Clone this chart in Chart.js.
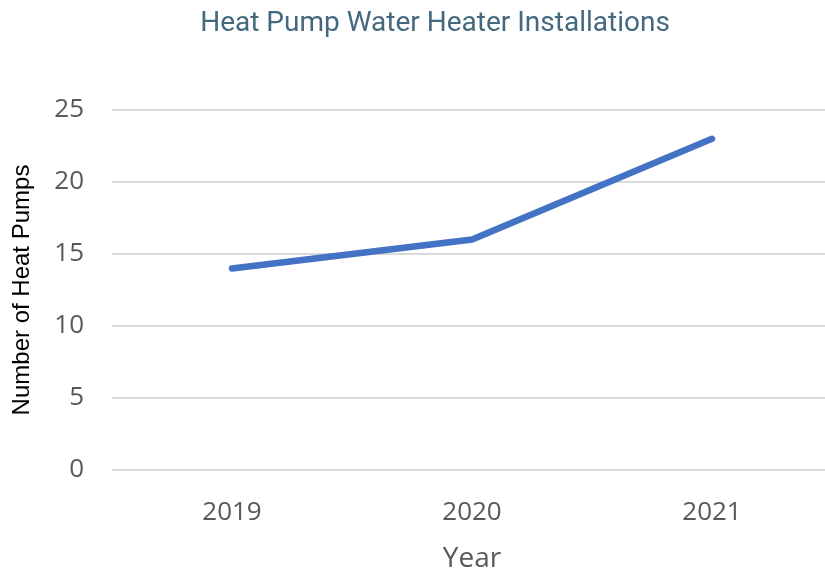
<!DOCTYPE html>
<html>
<head>
<meta charset="utf-8">
<script src="https://cdn.jsdelivr.net/npm/chart.js@4/dist/chart.umd.min.js"></script>
<style>
  html, body { margin: 0; padding: 0; background: #ffffff; overflow: hidden; }
  #wrap { position: relative; width: 870px; height: 571px; }
</style>
</head>
<body>
<div id="wrap"><canvas id="chart" width="870" height="571"></canvas></div>
<script>
// Installations per year
const years = ['2019', '2020', '2021'];
const installations = [14, 16, 23];
const yTicks = [0, 5, 10, 15, 20, 25];
const chartTitle = 'Heat Pump Water Heater Installations';

const tickFont = { family: "'Open Sans', 'Noto Sans', sans-serif", size: 26 };

// Title centred across the whole canvas
const canvasTitle = {
  id: 'canvasTitle',
  afterDraw(chart) {
    const ctx = chart.ctx;
    ctx.save();
    ctx.font = "28px Roboto, sans-serif";
    ctx.fillStyle = '#44697f';
    ctx.textAlign = 'center';
    ctx.textBaseline = 'middle';
    ctx.fillText(chartTitle, chart.width / 2, 24);
    ctx.restore();
  }
};

new Chart(document.getElementById('chart'), {
  type: 'line',
  data: {
    labels: years,
    datasets: [{
      label: 'Heat Pumps',
      data: installations,
      borderColor: '#4472c4',
      borderWidth: 6.5,
      pointRadius: 0,
      tension: 0,
      fill: false,
      borderCapStyle: 'round'
    }]
  },
  plugins: [canvasTitle],
  options: {
    responsive: false,
    animation: false,
    layout: { padding: { left: 0, right: 38, top: 110, bottom: 0 } },
    plugins: {
      legend: { display: false },
      tooltip: { enabled: false },
      title: { display: false }
    },
    scales: {
      x: {
        type: 'category',
        offset: true,
        grid: { display: false, drawTicks: false },
        border: { display: false },
        ticks: { color: '#595959', font: tickFont, padding: 27 },
        title: {
          display: true,
          text: 'Year',
          color: '#595959',
          font: { family: "'Open Sans', sans-serif", size: 28 },
          padding: { top: 0, bottom: -5 }
        },
        afterFit: (s) => { s.height = 101; }
      },
      y: {
        min: 0,
        max: 25,
        afterBuildTicks: (s) => { s.ticks = yTicks.map(v => ({ value: v })); },
        grid: { color: '#d9d9d9', lineWidth: 2, drawTicks: false },
        border: { display: false },
        ticks: { color: '#595959', font: tickFont, padding: 28 },
        title: {
          display: true,
          text: 'Number of Heat Pumps',
          color: '#000000',
          font: { family: "'Liberation Sans', Arial, sans-serif", size: 24 },
          padding: { top: 8, bottom: 0 }
        },
        afterFit: (s) => { s.width = 112; }
      }
    }
  }
});
</script>
</body>
</html>
